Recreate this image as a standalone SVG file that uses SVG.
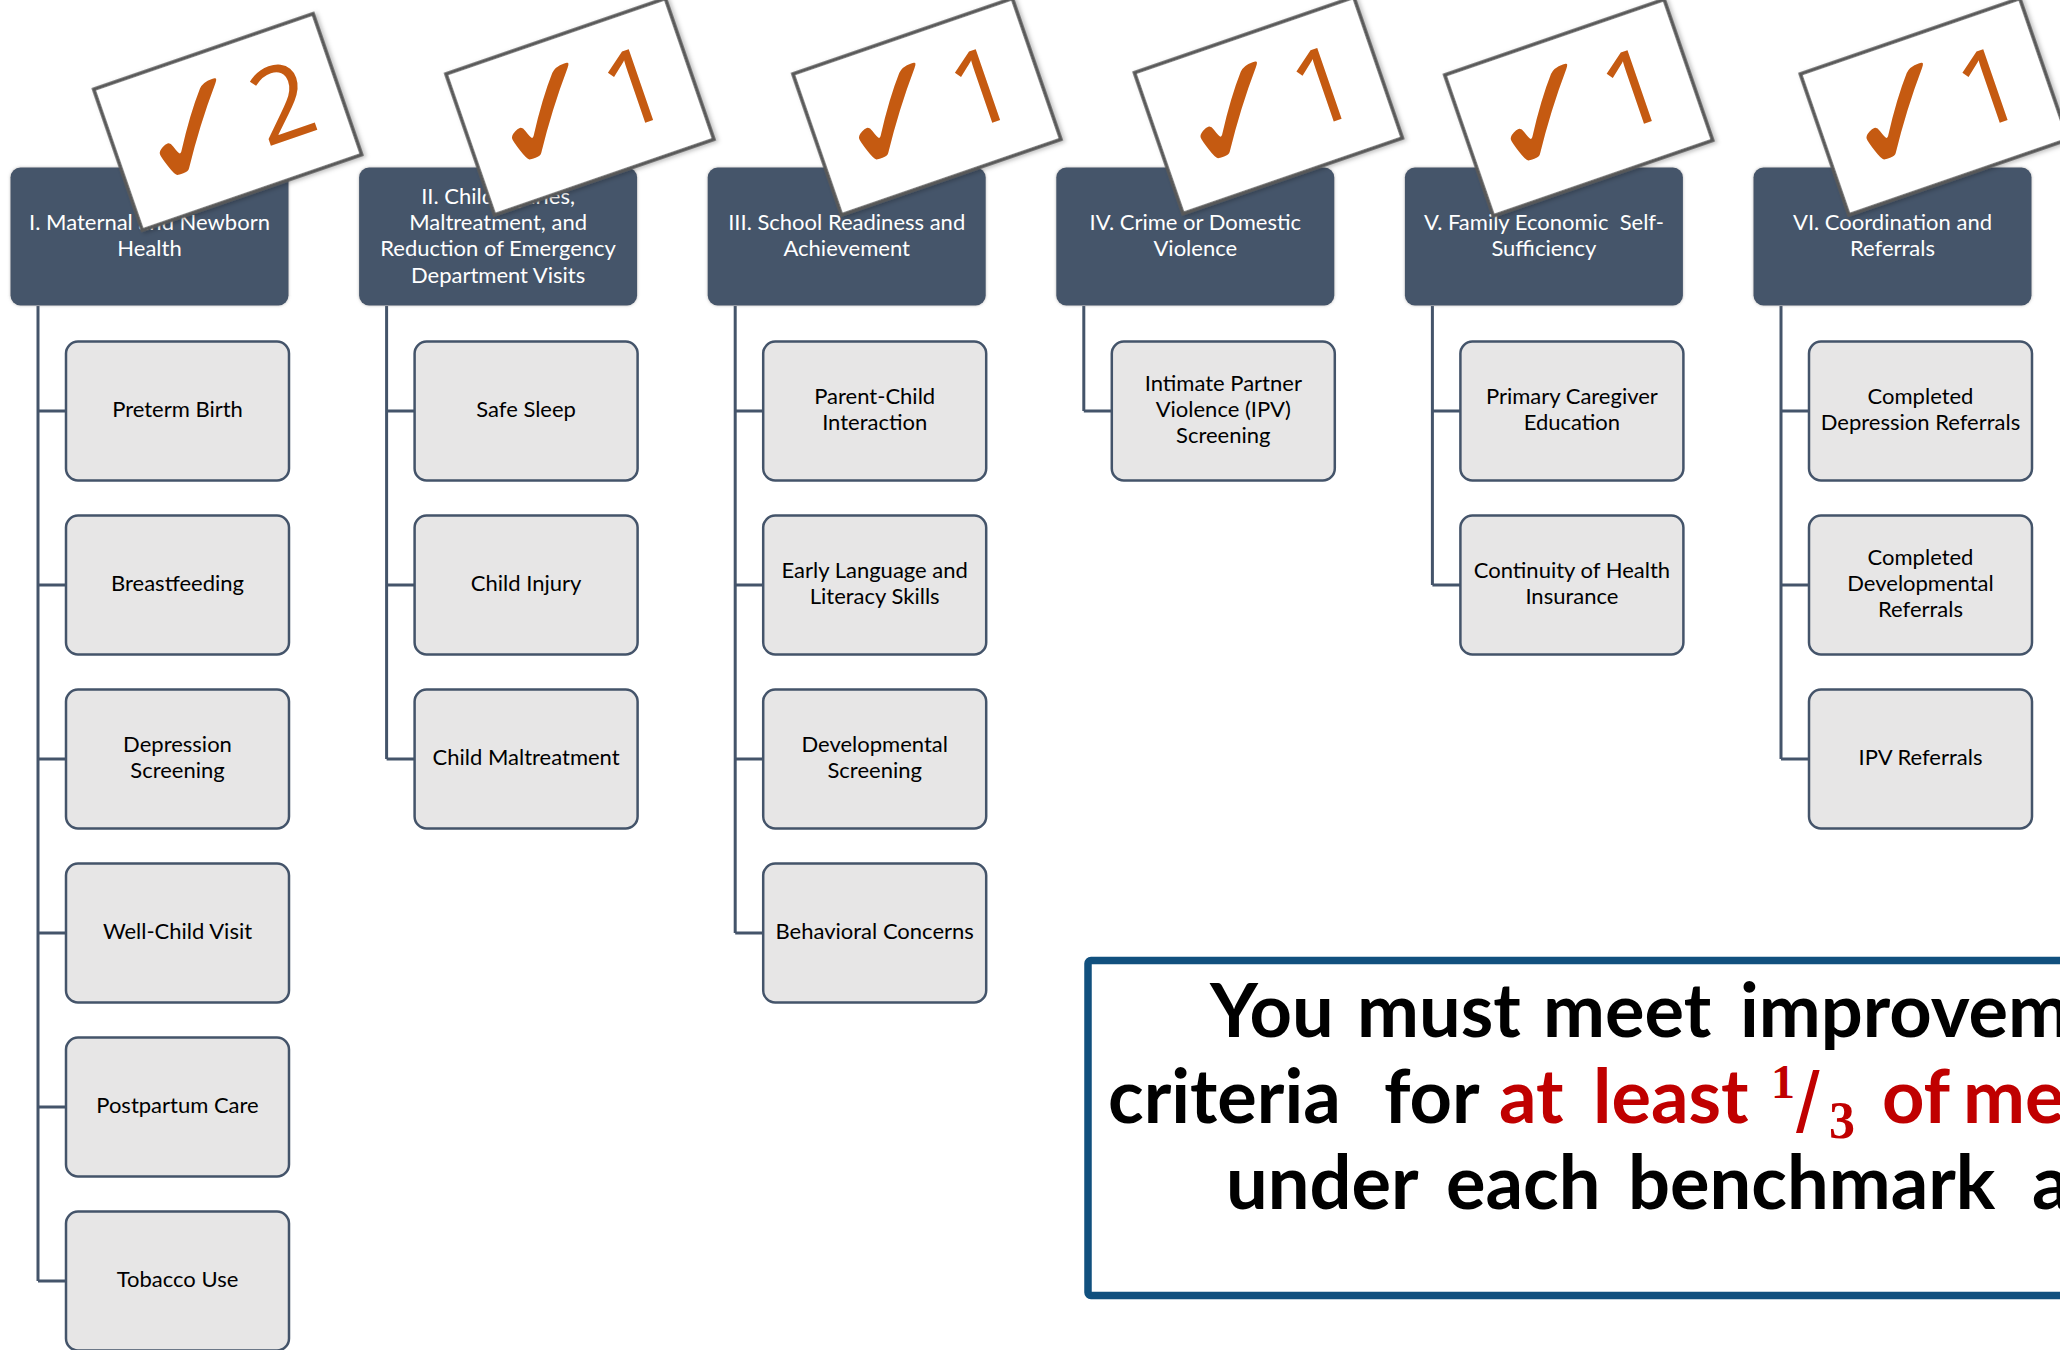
<svg xmlns="http://www.w3.org/2000/svg" width="2060" height="1350" viewBox="0 0 2060 1350">
<defs>
<filter id="sh" x="-10%" y="-10%" width="120%" height="120%">
<feDropShadow dx="0" dy="0" stdDeviation="1.6" flood-color="#7f7f7f" flood-opacity="0.55"/>
</filter>
<filter id="tsh" x="-10%" y="-10%" width="125%" height="125%">
<feDropShadow dx="2" dy="2" stdDeviation="2" flood-color="#000" flood-opacity="0.25"/>
</filter>
</defs>
<style>
.hdr rect{fill:#44546A;filter:url(#sh)}
.hdr text{fill:#fff;font-family:Lato,"Open Sans",sans-serif;font-size:22px;text-anchor:middle}
.child rect{fill:#E7E6E6;stroke:#44546A;stroke-width:2.5}
.child text{fill:#000;font-family:Lato,"Open Sans",sans-serif;font-size:22px;text-anchor:middle}
.conn path{stroke:#44546A;stroke-width:3;fill:none}
.tag rect{fill:#fff;stroke:#595959;stroke-width:3.5;filter:url(#tsh)}
.tag .ck{fill:#C55A11;font-family:"DejaVu Sans",sans-serif;font-weight:bold;font-size:150px}
.tag .num{fill:#C55A11;font-family:"Open Sans",Lato,sans-serif;font-size:105px;text-anchor:middle}
.big{font-family:Lato,"Open Sans",sans-serif;font-weight:bold;font-size:74px;fill:#000}
.red{fill:#C00000}
.frac{font-family:"Liberation Serif",serif;font-weight:bold}
</style>

<g class="conn" id="connectors">
<path d="M38 306V1281M38 411H66M38 585H66M38 759H66M38 933H66M38 1107H66M38 1281H66"/>
<path d="M386.6 306V759M386.6 411H414.6M386.6 585H414.6M386.6 759H414.6"/>
<path d="M735.2 306V933M735.2 411H763.2M735.2 585H763.2M735.2 759H763.2M735.2 933H763.2"/>
<path d="M1083.8 306V411M1083.8 411H1111.8"/>
<path d="M1432.4 306V585M1432.4 411H1460.4M1432.4 585H1460.4"/>
<path d="M1781 306V759M1781 411H1809M1781 585H1809M1781 759H1809"/>
</g>

<!-- headers -->
<g class="hdr" id="h1"><rect x="10.5" y="167.5" width="278" height="138" rx="10"/><text><tspan x="149.5" y="230">I. Maternal and Newborn</tspan><tspan x="149.5" y="256">Health</tspan></text></g>
<g class="hdr" id="h2"><rect x="359.1" y="167.5" width="278" height="138" rx="10"/><text><tspan x="498.1" y="203.5">II. Child Injuries,</tspan><tspan x="498.1" y="230">Maltreatment, and</tspan><tspan x="498.1" y="256">Reduction of Emergency</tspan><tspan x="498.1" y="282.5">Department Visits</tspan></text></g>
<g class="hdr" id="h3"><rect x="707.7" y="167.5" width="278" height="138" rx="10"/><text><tspan x="846.7" y="230">III. School Readiness and</tspan><tspan x="846.7" y="256">Achievement</tspan></text></g>
<g class="hdr" id="h4"><rect x="1056.3" y="167.5" width="278" height="138" rx="10"/><text><tspan x="1195.3" y="230">IV. Crime or Domestic</tspan><tspan x="1195.3" y="256">Violence</tspan></text></g>
<g class="hdr" id="h5"><rect x="1404.9" y="167.5" width="278" height="138" rx="10"/><text xml:space="preserve"><tspan x="1543.9" y="230">V. Family Economic  Self-</tspan><tspan x="1543.9" y="256">Sufficiency</tspan></text></g>
<g class="hdr" id="h6"><rect x="1753.5" y="167.5" width="278" height="138" rx="10"/><text><tspan x="1892.5" y="230">VI. Coordination and</tspan><tspan x="1892.5" y="256">Referrals</tspan></text></g>

<!-- column 1 -->
<g class="child" id="c1-1"><rect x="66" y="341.5" width="223" height="139" rx="12"/><text x="177.5" y="416.5">Preterm Birth</text></g>
<g class="child" id="c1-2"><rect x="66" y="515.5" width="223" height="139" rx="12"/><text x="177.5" y="590.5">Breastfeeding</text></g>
<g class="child" id="c1-3"><rect x="66" y="689.5" width="223" height="139" rx="12"/><text><tspan x="177.5" y="751.9">Depression</tspan><tspan x="177.5" y="778.2">Screening</tspan></text></g>
<g class="child" id="c1-4"><rect x="66" y="863.5" width="223" height="139" rx="12"/><text x="177.5" y="938.5">Well-Child Visit</text></g>
<g class="child" id="c1-5"><rect x="66" y="1037.5" width="223" height="139" rx="12"/><text x="177.5" y="1112.5">Postpartum Care</text></g>
<g class="child" id="c1-6"><rect x="66" y="1211.5" width="223" height="139" rx="12"/><text x="177.5" y="1286.5">Tobacco Use</text></g>

<!-- column 2 -->
<g class="child" id="c2-1"><rect x="414.6" y="341.5" width="223" height="139" rx="12"/><text x="526.1" y="416.5">Safe Sleep</text></g>
<g class="child" id="c2-2"><rect x="414.6" y="515.5" width="223" height="139" rx="12"/><text x="526.1" y="590.5">Child Injury</text></g>
<g class="child" id="c2-3"><rect x="414.6" y="689.5" width="223" height="139" rx="12"/><text x="526.1" y="764.5">Child Maltreatment</text></g>

<!-- column 3 -->
<g class="child" id="c3-1"><rect x="763.2" y="341.5" width="223" height="139" rx="12"/><text><tspan x="874.7" y="403.9">Parent-Child</tspan><tspan x="874.7" y="430.2">Interaction</tspan></text></g>
<g class="child" id="c3-2"><rect x="763.2" y="515.5" width="223" height="139" rx="12"/><text><tspan x="874.7" y="577.9">Early Language and</tspan><tspan x="874.7" y="604.2">Literacy Skills</tspan></text></g>
<g class="child" id="c3-3"><rect x="763.2" y="689.5" width="223" height="139" rx="12"/><text><tspan x="874.7" y="751.9">Developmental</tspan><tspan x="874.7" y="778.2">Screening</tspan></text></g>
<g class="child" id="c3-4"><rect x="763.2" y="863.5" width="223" height="139" rx="12"/><text x="874.7" y="938.5">Behavioral Concerns</text></g>

<!-- column 4 -->
<g class="child" id="c4-1"><rect x="1111.8" y="341.5" width="223" height="139" rx="12"/><text><tspan x="1223.3" y="390.7">Intimate Partner</tspan><tspan x="1223.3" y="417">Violence (IPV)</tspan><tspan x="1223.3" y="443.3">Screening</tspan></text></g>

<!-- column 5 -->
<g class="child" id="c5-1"><rect x="1460.4" y="341.5" width="223" height="139" rx="12"/><text><tspan x="1571.9" y="403.9">Primary Caregiver</tspan><tspan x="1571.9" y="430.2">Education</tspan></text></g>
<g class="child" id="c5-2"><rect x="1460.4" y="515.5" width="223" height="139" rx="12"/><text><tspan x="1571.9" y="577.9">Continuity of Health</tspan><tspan x="1571.9" y="604.2">Insurance</tspan></text></g>

<!-- column 6 -->
<g class="child" id="c6-1"><rect x="1809" y="341.5" width="223" height="139" rx="12"/><text><tspan x="1920.5" y="403.9">Completed</tspan><tspan x="1920.5" y="430.2">Depression Referrals</tspan></text></g>
<g class="child" id="c6-2"><rect x="1809" y="515.5" width="223" height="139" rx="12"/><text><tspan x="1920.5" y="564.7">Completed</tspan><tspan x="1920.5" y="591">Developmental</tspan><tspan x="1920.5" y="617.3">Referrals</tspan></text></g>
<g class="child" id="c6-3"><rect x="1809" y="689.5" width="223" height="139" rx="12"/><text x="1920.5" y="764.5">IPV Referrals</text></g>

<!-- tags -->
<g class="tag" id="tag1" transform="translate(93.75 89.3) rotate(-19)"><rect width="232" height="149"/><text class="ck" x="19" y="123">✓</text><text class="num" x="174" y="111">2</text></g>
<g class="tag" id="tag2" transform="translate(446 74) rotate(-19)"><rect width="232" height="149"/><text class="ck" x="19" y="123">✓</text><text class="num" x="174" y="111">1</text></g>
<g class="tag" id="tag3" transform="translate(793 74) rotate(-19)"><rect width="232" height="149"/><text class="ck" x="19" y="123">✓</text><text class="num" x="174" y="111">1</text></g>
<g class="tag" id="tag4" transform="translate(1134.5 72.7) rotate(-19)"><rect width="232" height="149"/><text class="ck" x="19" y="123">✓</text><text class="num" x="174" y="111">1</text></g>
<g class="tag" id="tag5" transform="translate(1444.8 75) rotate(-19)"><rect width="232" height="149"/><text class="ck" x="19" y="123">✓</text><text class="num" x="174" y="111">1</text></g>
<g class="tag" id="tag6" transform="translate(1800.4 74) rotate(-19)"><rect width="232" height="149"/><text class="ck" x="19" y="123">✓</text><text class="num" x="174" y="111">1</text></g>

<!-- note -->
<g id="note">
<rect x="1088" y="960.5" width="1000" height="335" rx="3" fill="#fff" stroke="#11507E" stroke-width="7.5"/>
<text class="big" y="1037"><tspan x="1210">You</tspan> <tspan x="1357">must</tspan> <tspan x="1543">meet</tspan> <tspan x="1740">improvem</tspan></text>
<text class="big" y="1123"><tspan x="1108">criteria</tspan> <tspan x="1384">for</tspan> <tspan class="red" x="1499">at</tspan> <tspan class="red" x="1593">least</tspan></text>
<text class="frac red" x="1771" y="1098" font-size="48">1</text>
<text class="red" x="1796" y="1132" font-family="'Liberation Sans',sans-serif" font-size="85">/</text>
<text class="frac red" x="1829" y="1138" font-size="52">3</text>
<text class="big red" y="1123"><tspan x="1882">of</tspan> <tspan x="1963">me</tspan></text>
<text class="big" y="1209"><tspan x="1226">under</tspan> <tspan x="1446">each</tspan> <tspan x="1628">benchmark</tspan> <tspan x="2032">a</tspan></text>
</g>
</svg>
